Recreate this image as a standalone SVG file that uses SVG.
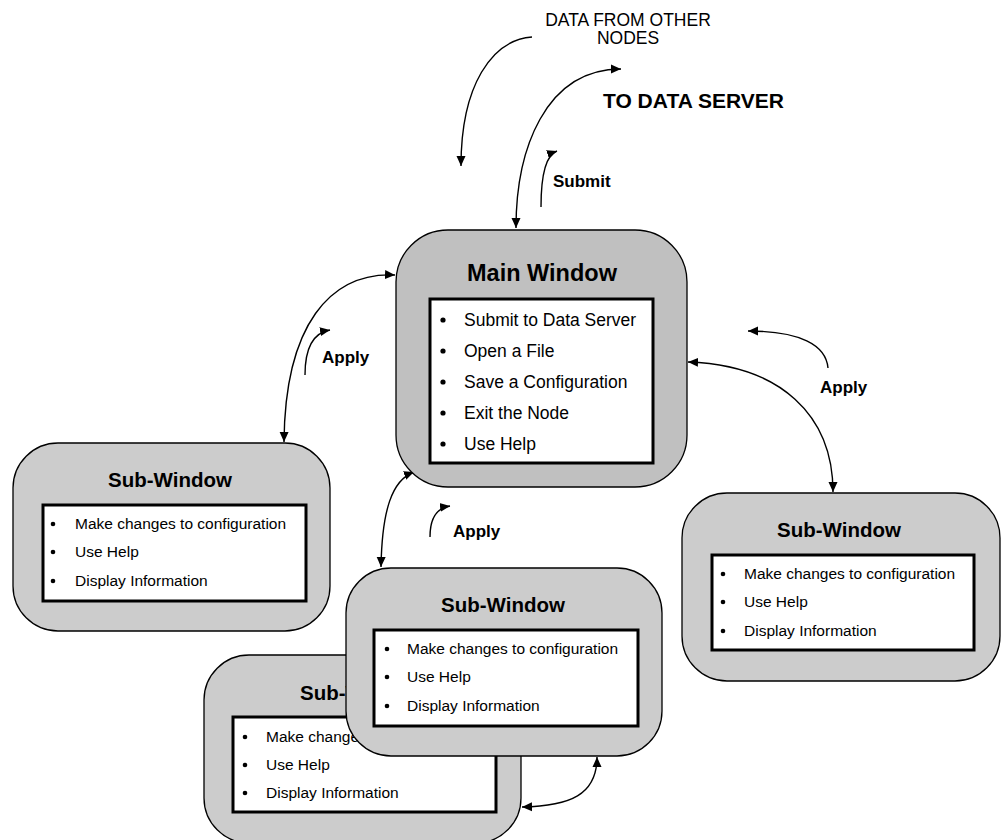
<svg xmlns="http://www.w3.org/2000/svg" width="1002" height="840" viewBox="0 0 1002 840">
<defs>
<style>
.win{fill:#c0c0c0;stroke:#000;stroke-width:1.3}
.sub{fill:#cccccc;stroke:#000;stroke-width:1.3}
.box{fill:#fff;stroke:#000;stroke-width:3}
.title{font-family:"Liberation Sans",Arial,sans-serif;font-weight:bold;text-anchor:middle;fill:#000}
.item{font-family:"Liberation Sans",Arial,sans-serif;fill:#000}
.lbl{font-family:"Liberation Sans",Arial,sans-serif;font-weight:bold;font-size:17px;fill:#000}
.plain{font-family:"Liberation Sans",Arial,sans-serif;font-size:17.5px;fill:#000;text-anchor:middle}
.con{fill:none;stroke:#000;stroke-width:1.4}
</style>
<marker id="ah" markerUnits="userSpaceOnUse" markerWidth="11" markerHeight="10" refX="10" refY="5" orient="auto-start-reverse">
<path d="M0,0.5 L10,5 L0,9.5 z" fill="#000"/>
</marker>
</defs>
<rect width="1002" height="840" fill="#fff"/>

<g id="connectors">
<path class="con" d="M532,37 C492,40 461,85 461,166" marker-end="url(#ah)"/>
<path class="con" d="M516,228 C516,150 545,69 621,69" marker-start="url(#ah)" marker-end="url(#ah)"/>
<path class="con" d="M541,207 C541,175 546,155 557,151" marker-end="url(#ah)"/>
<path class="con" d="M395,275 C330,272 285,325 284,442" marker-start="url(#ah)" marker-end="url(#ah)"/>
<path class="con" d="M305,375 C305,350 312,333 330,330" marker-end="url(#ah)"/>
<path class="con" d="M688,362 C780,365 833,415 833,492" marker-start="url(#ah)" marker-end="url(#ah)"/>
<path class="con" d="M828,368 C826,345 800,331 748,331" marker-end="url(#ah)"/>
<path class="con" d="M414,472 C392,480 382,510 381,567" marker-start="url(#ah)" marker-end="url(#ah)"/>
<path class="con" d="M430,537 C430,520 436,508 450,506" marker-end="url(#ah)"/>
<path class="con" d="M522,807 C570,806 597,795 597,757" marker-start="url(#ah)" marker-end="url(#ah)"/>
</g>

<g id="labels">
<text class="plain" x="628" y="26">DATA FROM OTHER</text>
<text class="plain" x="628" y="44">NODES</text>
<text class="lbl" x="603" y="108" style="font-size:21px">TO DATA SERVER</text>
<text class="lbl" x="553" y="187">Submit</text>
<text class="lbl" x="322" y="363">Apply</text>
<text class="lbl" x="820" y="393">Apply</text>
<text class="lbl" x="453" y="537">Apply</text>
</g>

<g id="main-window">
<rect class="win" x="396" y="230" width="291" height="257" rx="52" ry="52"/>
<text class="title" x="542" y="281" font-size="23.5">Main Window</text>
<rect class="box" x="430" y="299" width="223" height="164"/>
<g class="item" font-size="17.5">
<circle cx="443" cy="320" r="2.6"/><text x="464" y="326">Submit to Data Server</text>
<circle cx="443" cy="351" r="2.6"/><text x="464" y="357">Open a File</text>
<circle cx="443" cy="382" r="2.6"/><text x="464" y="388">Save a Configuration</text>
<circle cx="443" cy="413" r="2.6"/><text x="464" y="419">Exit the Node</text>
<circle cx="443" cy="444" r="2.6"/><text x="464" y="450">Use Help</text>
</g>
</g>

<g id="sub-window-left">
<rect class="sub" x="13" y="443" width="317" height="188" rx="45" ry="45"/>
<text class="title" x="170" y="487" font-size="20.5">Sub-Window</text>
<rect class="box" x="43" y="505" width="263" height="96"/>
<g class="item" font-size="15.5">
<circle cx="53" cy="524" r="2.3"/><text x="75" y="529">Make changes to configuration</text>
<circle cx="53" cy="552" r="2.3"/><text x="75" y="557">Use Help</text>
<circle cx="53" cy="581" r="2.3"/><text x="75" y="586">Display Information</text>
</g>
</g>

<g id="sub-window-right">
<rect class="sub" x="682" y="493" width="318" height="188" rx="45" ry="45"/>
<text class="title" x="839" y="537" font-size="20.5">Sub-Window</text>
<rect class="box" x="712" y="555" width="262" height="95"/>
<g class="item" font-size="15.5">
<circle cx="723" cy="574" r="2.3"/><text x="744" y="579">Make changes to configuration</text>
<circle cx="723" cy="602" r="2.3"/><text x="744" y="607">Use Help</text>
<circle cx="723" cy="631" r="2.3"/><text x="744" y="636">Display Information</text>
</g>
</g>

<g id="sub-window-back">
<rect class="sub" x="204" y="655" width="317" height="188" rx="45" ry="45"/>
<text class="title" x="362" y="700" font-size="20.5">Sub-Window</text>
<rect class="box" x="233" y="717" width="263" height="95"/>
<g class="item" font-size="15.5">
<circle cx="245" cy="737" r="2.3"/><text x="266" y="742">Make changes to configuration</text>
<circle cx="245" cy="765" r="2.3"/><text x="266" y="770">Use Help</text>
<circle cx="245" cy="793" r="2.3"/><text x="266" y="798">Display Information</text>
</g>
</g>

<g id="sub-window-front">
<rect class="sub" x="346" y="568" width="316" height="188" rx="45" ry="45"/>
<text class="title" x="503" y="612" font-size="20.5">Sub-Window</text>
<rect class="box" x="374" y="630" width="264" height="96"/>
<g class="item" font-size="15.5">
<circle cx="387" cy="649" r="2.3"/><text x="407" y="654">Make changes to configuration</text>
<circle cx="387" cy="677" r="2.3"/><text x="407" y="682">Use Help</text>
<circle cx="387" cy="706" r="2.3"/><text x="407" y="711">Display Information</text>
</g>
</g>
</svg>
